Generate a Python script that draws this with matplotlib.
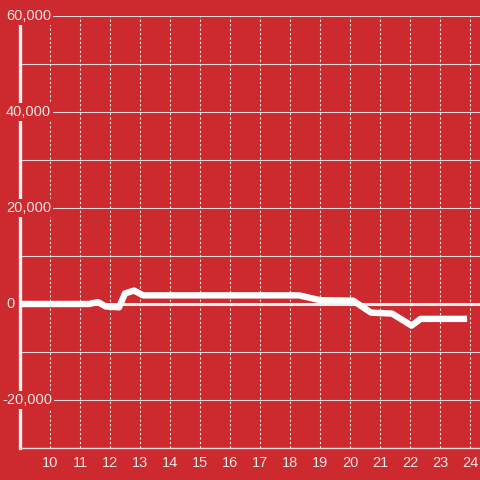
import matplotlib
matplotlib.use("Agg")
import matplotlib.pyplot as plt
import matplotlib.transforms as mtransforms

# values
hours = [9.0, 11.3, 11.6, 11.85, 12.3, 12.5, 12.8, 13.1, 18.3, 19.0, 20.1, 20.7, 21.4, 22.05, 22.35, 23.9]
values = [0, 0, 400, -500, -700, 2200, 2800, 1800, 1800, 800, 700, -1800, -2000, -4500, -3100, -3100]

x_ticks = list(range(10, 25))
y_ticks = [-30000, -20000, -10000, 0, 10000, 20000, 30000, 40000, 50000, 60000]
y_labeled = [-20000, 0, 20000, 40000, 60000]

bg = "#cc2a2e"
txt = "#f3e4e4"
plt.rcParams["font.family"] = ["Liberation Sans", "DejaVu Sans"]

fig = plt.figure(figsize=(4.8, 4.8), dpi=100, facecolor=bg)
ax = fig.add_axes([20 / 480, 32 / 480, 460 / 480, 432 / 480])
ax.set_facecolor(bg)

ax.set_xlim(9.0, 24.33)
ax.set_ylim(-30000, 60000)

ax.set_xticks(x_ticks)
ax.set_yticks(y_ticks)
ax.set_yticklabels([])
ax.tick_params(axis="x", length=0, pad=6, labelsize=10.5, labelcolor=txt)
ax.tick_params(axis="y", length=0)

ax.yaxis.grid(True, color="#d9d9d9", linewidth=0.8)
ax.xaxis.grid(True, color="#e8e8e8", linewidth=0.8, linestyle=(0, (2, 2)))
ax.set_axisbelow(True)

for s in ["top", "right"]:
    ax.spines[s].set_visible(False)
ax.spines["left"].set_color("#f2f2f2")
ax.spines["left"].set_linewidth(2.4)
ax.spines["bottom"].set_color("#d9d9d9")
ax.spines["bottom"].set_linewidth(1.0)

ax.axhline(0, color="#eeeeee", linewidth=2.2, zorder=2)

ax.plot(hours, values, color="white", linewidth=4.6, solid_joinstyle="round",
        solid_capstyle="butt", zorder=4, clip_on=False)

# y labels sit over the axis line with a background box
trans = mtransforms.blended_transform_factory(fig.transFigure, ax.transData)
for v in y_labeled:
    ax.text(6 / 480 if v >= 0 else 2 / 480, v, f"{v:,}".replace("-", "-"), transform=trans,
            ha="left", va="center", fontsize=10.5, color=txt, zorder=6, clip_on=False,
            bbox=dict(facecolor=bg, edgecolor="none", pad=1.2))

fig.savefig("out.png", dpi=100, facecolor=bg)
